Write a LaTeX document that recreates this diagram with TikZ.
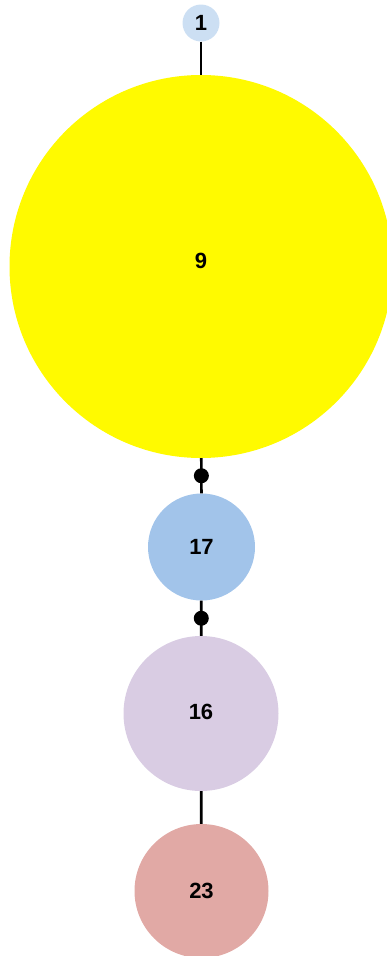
\documentclass[tikz,border=0pt]{standalone}
\usepackage{fontspec}
\setmainfont{Liberation Sans}
\begin{document}
\begin{tikzpicture}[x=1pt,y=-1pt,
  digit/.style={font=\fontsize{22}{22}\selectfont\bfseries, text=black, inner sep=0pt},
  ball/.style={circle, draw=none, inner sep=0pt, digit},
  link/.style={line width=2.7pt, black},
  knob/.style={circle, fill=black, inner sep=0pt, minimum size=15pt}]
  \useasboundingbox (0,0) rectangle (386,956);
  \definecolor{cA}{HTML}{CCDFF3}
  \definecolor{cB}{HTML}{FFFA00}
  \definecolor{cC}{HTML}{A2C4EA}
  \definecolor{cD}{HTML}{D9CCE3}
  \definecolor{cE}{HTML}{E1A9A5}
  % chain of nodes, top to bottom
  \node[ball, fill=cA, minimum size=37pt]  (n1)  at (201,23)  {1};
  \node[ball, fill=cB, minimum size=383pt] (n9)  at (201,266.5) {};
  \node[digit] (t9) at ([yshift=6pt]n9.center) {9};
  \node[ball, fill=cC, minimum size=107pt] (n17) at (201.5,547) {17};
  \node[ball, fill=cD, minimum size=155pt] (n16) at (201,713.5) {};
  \node[digit] (t16) at ([yshift=2pt]n16.center) {16};
  \node[ball, fill=cE, minimum size=134pt] (n23) at (201.5,891) {23};
  % connectors
  \draw[link] (n1) -- (n9);
  \draw[link] (n9) -- node[knob] {} (n17);
  \draw[link] (n17) -- node[knob] {} (n16);
  \draw[link] (n16) -- (n23);
\end{tikzpicture}
\end{document}
